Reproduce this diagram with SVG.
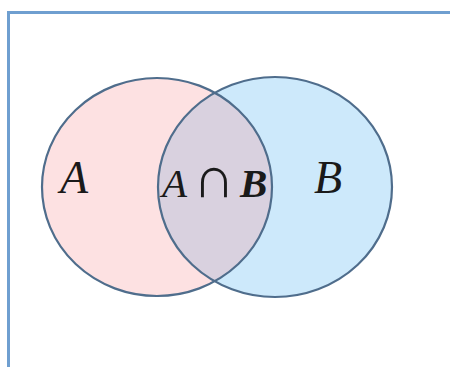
<svg xmlns="http://www.w3.org/2000/svg" width="450" height="367" viewBox="0 0 450 367">
<style>
.set{stroke:#4f6d8c;stroke-width:2.2}
.lbl{font-family:"Liberation Serif","DejaVu Serif",serif;font-style:italic;fill:#1a1a1a}
</style>
<defs>
<clipPath id="clipA"><ellipse cx="157" cy="187" rx="115" ry="109"/></clipPath>
</defs>
<rect width="450" height="367" fill="#ffffff"/>
<path d="M450 12.5 H8.5 V367" fill="none" stroke="#6f9fd0" stroke-width="3"/>
<g id="setA"><ellipse cx="157" cy="187" rx="115" ry="109" fill="#fde1e2"/></g>
<g id="setB"><ellipse cx="275" cy="187" rx="117" ry="110" fill="#cde9fb"/></g>
<g id="intersection"><ellipse cx="275" cy="187" rx="117" ry="110" fill="#d9d1df" clip-path="url(#clipA)"/></g>
<g id="outlines" fill="none">
<ellipse class="set" cx="157" cy="187" rx="115" ry="109"/>
<ellipse class="set" cx="275" cy="187" rx="117" ry="110"/>
</g>
<g id="labels">
<text class="lbl" x="60" y="193" font-size="46">A</text>
<text class="lbl" x="314" y="193" font-size="46">B</text>
<text class="lbl" y="197" font-size="41"><tspan x="162">A</tspan><tspan x="193" font-style="normal" font-size="58">∩</tspan><tspan x="240" font-weight="bold">B</tspan></text>
</g>
</svg>
